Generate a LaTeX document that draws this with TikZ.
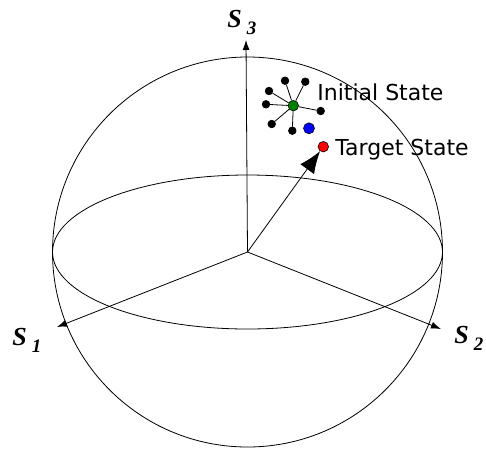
\documentclass[tikz,border=0pt]{standalone}
\usepackage{xcolor}
\usepackage{fontspec}
\usepackage{tikz}
\usetikzlibrary{positioning}
\usetikzlibrary{shapes,calc,arrows.meta}

\newfontfamily\statefont{DejaVu Sans}
\newfontfamily\axisfont{Liberation Serif}
\newcommand{\axislabel}[1]{{\axisfont\bfseries\itshape\fontsize{26}{26}\selectfont S\hspace{5pt}\raisebox{-7pt}{\fontsize{19}{19}\selectfont #1}}}

\begin{document}
\begin{tikzpicture}[x=1pt,y=1pt,line width=.8,
  >={Latex[length=10pt,width=7pt]},
  dot/.style={circle,fill=black,draw=black,inner sep=0pt,minimum size=7.5pt},
  state/.style={circle,draw=black,line width=.6,inner sep=0pt,minimum size=10.5pt},
  axis label/.style={anchor=base west,inner sep=0pt},
  state label/.style={anchor=base west,inner sep=0pt,font=\statefont\fontsize{22}{22}\selectfont}]
\useasboundingbox (-247.5,-196) rectangle (238.5,252);
% sphere and equator
\draw (0,0) circle (195);
\draw (0,0) ellipse (195 and 77);
% axes
\coordinate (O) at (0,0);
\coordinate (Sthree) at (-1.5,212);
\coordinate (Sone) at (-190.5,-75);
\coordinate (Stwo) at (193.5,-77);
\draw[->] (O) -- (Sthree);
\draw[->] (O) -- (Sone);
\draw[->] (O) -- (Stwo);
\node[axis label] at (-20.5,225) (Lthree) {\axislabel{3}};
\node[axis label] at (-235.5,-93) (Lone) {\axislabel{1}};
\node[axis label] at (206.5,-91) (Ltwo) {\axislabel{2}};
% states
\node[state,fill=green!50!black] at (45.8,146.3) (Init) {};
\node[dot] at (37.5,171.3) (Bone) {};
\node[dot] at (57.8,170.3) (Btwo) {};
\node[dot] at (21.5,161) (Bthree) {};
\node[dot] at (18.5,147.7) (Bfour) {};
\node[dot] at (73.2,141) (Bfive) {};
\node[dot] at (24.2,128) (Bsix) {};
\node[dot] at (44.8,121.3) (Bseven) {};
\node[state,fill=blue,minimum size=11pt] at (61.5,123.7) (Final) {};
\node[state,fill=red] at (75.8,105.3) (Target) {};
\foreach \b in {Bone,Btwo,Bthree,Bfour,Bfive,Bsix,Bseven}
  \draw (Init) -- (\b);
\draw[-{Latex[length=22pt,width=17pt]}] (O) -- (Target);
\node[state label] at (69.5,152) (Linit) {Initial State};
\node[state label] at (87.5,97) (Ltarget) {Target State};
\end{tikzpicture}
\end{document}
